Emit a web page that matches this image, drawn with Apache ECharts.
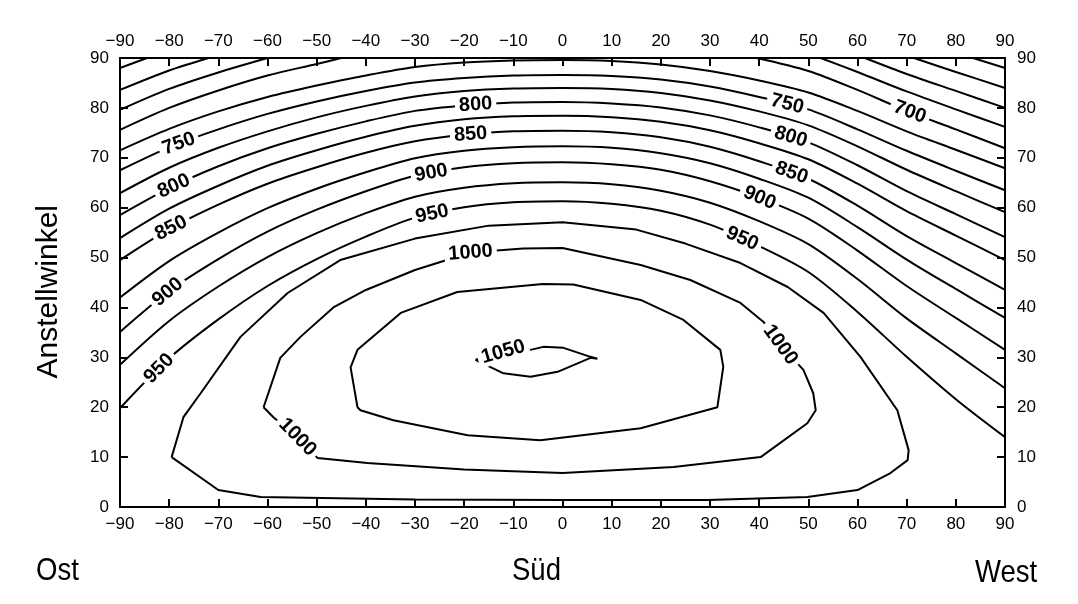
<!DOCTYPE html>
<html>
<head>
<meta charset="utf-8">
<script src="https://cdn.jsdelivr.net/npm/echarts@6/dist/echarts.min.js"></script>
<style>
html,body{margin:0;padding:0;background:#fff;}
#c{width:1078px;height:604px;}
</style>
</head>
<body>
<div id="c"></div>
<script>
// ---- axis ticks ----
const azimuthTicks = [-90,-80,-70,-60,-50,-40,-30,-20,-10,0,10,20,30,40,50,60,70,80,90];
const tiltTicks = [0,10,20,30,40,50,60,70,80,90];

// ---- contour lines: [azimuth (deg), tilt (deg)] ----
const c600R = [[83.5,90],[90,88]];
const c625L = [[-90,88],[-84.5,90]];
const c625R = [[71.5,90],[80,87.2],[90,84]];
const c650L = [[-90,83.6],[-80,87.5],[-72,90]];
const c650R = [[61.5,90],[70,86.8],[80,83.4],[90,80]];
const c675L = [[-90,79.6],[-80,83.8],[-70,87.1],[-60,90]];
const c675R = [[52.5,90],[60,87.2],[70,83.3],[80,79.7],[90,76.2]];
const c700L = [[-90,75.6],[-80,80.0],[-70,83.5],[-60,86.5],[-50,88.8],[-45,90]];
const c700R = [[39.5,90],[50,87.4],[60,83.6],[70,79.4],[80,75.7],[90,71.9]];
const c725 = [[-90,71.5],[-80,75.8],[-70,79.3],[-60,82.2],[-50,84.5],[-40,86.5],[-30,88.2],[-20,89.1],[-10,89.5],[0,89.6],[10,89.4],[20,88.7],[30,87.4],[40,85.5],[50,83.1],[60,79.4],[70,75.3],[80,71.6],[90,67.9]];
const c750 = [[-90,67.5],[-80,72.1],[-70,75.7],[-60,78.8],[-50,81.3],[-40,83.4],[-30,85.1],[-20,86.0],[-10,86.5],[0,86.6],[10,86.4],[20,85.7],[30,84.3],[40,82.2],[50,79.7],[60,75.7],[70,71.4],[80,67.4],[90,63.5]];
const c775 = [[-90,62.9],[-80,68.0],[-70,72.0],[-60,75.3],[-50,78.1],[-40,80.4],[-30,82.3],[-20,83.4],[-10,83.9],[0,84.0],[10,83.8],[20,83.0],[30,81.5],[40,79.3],[50,76.5],[60,72.3],[70,67.6],[80,63.3],[90,59.1]];
const c800 = [[-90,58.5],[-80,63.9],[-70,68.3],[-60,71.9],[-50,74.8],[-40,77.3],[-30,79.4],[-20,80.5],[-10,81.1],[0,81.2],[10,80.9],[20,80.1],[30,78.5],[40,76.1],[50,73.1],[60,68.5],[70,63.3],[80,58.7],[90,54.1]];
const c825 = [[-90,53.9],[-80,59.8],[-70,64.4],[-60,68.4],[-50,71.5],[-40,74.2],[-30,76.4],[-20,77.7],[-10,78.3],[0,78.4],[10,78.1],[20,77.2],[30,75.5],[40,72.9],[50,69.7],[60,64.8],[70,59.3],[80,54.4],[90,49.5]];
const c850 = [[-90,49.5],[-80,55.7],[-70,60.6],[-60,64.8],[-50,68.1],[-40,71.0],[-30,73.3],[-20,74.6],[-10,75.3],[0,75.4],[10,75.1],[20,74.1],[30,72.2],[40,69.3],[50,65.8],[60,60.4],[70,54.3],[80,48.9],[90,43.5]];
const c875 = [[-90,42.0],[-80,49.3],[-70,55.0],[-60,59.9],[-50,63.8],[-40,67.1],[-30,69.9],[-20,71.4],[-10,72.1],[0,72.3],[10,72.0],[20,70.9],[30,68.9],[40,65.8],[50,62.0],[60,56.1],[70,49.6],[80,43.7],[90,37.9]];
const c900 = [[-90,35.1],[-80,43.3],[-70,49.7],[-60,55.2],[-50,59.6],[-40,63.3],[-30,66.4],[-20,68.1],[-10,68.9],[0,69.1],[10,68.7],[20,67.6],[30,65.3],[40,62.0],[50,57.8],[60,51.4],[70,44.3],[80,37.9],[90,31.5]];
const c925 = [[-90,28.5],[-80,37.3],[-70,44.2],[-60,50.1],[-50,54.9],[-40,58.9],[-30,62.2],[-20,64.0],[-10,64.9],[0,65.1],[10,64.7],[20,63.4],[30,61.0],[40,57.3],[50,52.7],[60,45.7],[70,37.8],[80,30.8],[90,23.8]];
const c950 = [[-90,19.8],[-80,29.8],[-70,37.6],[-60,44.3],[-50,49.7],[-40,54.2],[-30,58.0],[-20,60.1],[-10,61.1],[0,61.3],[10,60.8],[20,59.4],[30,56.6],[40,52.3],[50,47.1],[60,39.1],[70,30.1],[80,21.6],[90,14.0]];
const c975 = [[-79.5,10.0],[-77.1,18.0],[-73.6,22.8],[-65.5,34.1],[-55.9,42.9],[-45.2,49.5],[-30,53.8],[-15,56.4],[0,57.1],[15,55.6],[25,52.8],[36.2,48.9],[45.8,44.1],[53.1,38.9],[60.6,30.1],[68.1,19.4],[70.4,11.4],[70.2,9.4],[66.7,6.8],[60.0,3.4],[49.8,2.0],[29.5,1.4],[0,1.4],[-30,1.5],[-61.4,2.0],[-70,3.4],[-79.5,10.0]];
const c1000 = [[-60.8,20.0],[-57.4,29.9],[-53.3,34.1],[-46.6,40.0],[-40,43.5],[-30,47.5],[-18.7,51.0],[-8,51.8],[0,51.9],[15.9,48.5],[26,45.5],[36.2,40.9],[40.9,37.1],[44.3,32.5],[49,27.5],[51,22.8],[51.5,19.4],[49.8,16.8],[40.3,10.0],[22.6,8.0],[0,6.8],[-20,7.5],[-39.7,8.8],[-49.8,9.8],[-53.9,14.0],[-58.8,18.0],[-60.8,20.0]];
const c1025 = [[-41.7,20.0],[-43.1,28.0],[-41.7,31.5],[-32.9,38.9],[-21.4,43.1],[-4,44.7],[2.2,44.6],[15.9,41.5],[24.6,37.5],[32.1,31.5],[32.7,28.1],[31.5,20.0],[15.9,15.8],[-4.5,13.4],[-19.3,14.4],[-34.4,17.4],[-41.1,19.4],[-41.7,20.0]];
const c1050 = [[-17.7,29.5],[-12,31.1],[-6.5,31.5],[-3.9,32.1],[0.2,31.9],[5.7,30.1],[7.1,29.7],[5.7,29.9],[-1,27.1],[-6.5,26.1],[-12,26.8],[-17.7,29.5]];

// level -> pieces
const contourPieces = {
  600:[c600R], 625:[c625L,c625R], 650:[c650L,c650R], 675:[c675L,c675R], 700:[c700L,c700R],
  725:[c725], 750:[c750], 775:[c775], 800:[c800], 825:[c825], 850:[c850], 875:[c875],
  900:[c900], 925:[c925], 950:[c950], 975:[c975], 1000:[c1000], 1025:[c1025], 1050:[c1050]
};
const closedLevels = [975,1000,1025,1050];

// ---- contour labels: [text, azimuth, tilt] (approximate anchor, snapped to line) ----
const contourLabels = [
  ['750',-78.3,73.5],['800',-79.3,64.9],['850',-79.7,56.1],['900',-80.3,43.1],['950',-81.8,27.5],
  ['800',-17.7,81.2],['850',-18.7,74.9],['900',-26.8,67.5],['950',-26.8,60.1],['1000',-18.7,51.1],
  ['700',70.8,79.6],['750',45.8,81.2],['800',46.4,74.1],['850',46.8,67.5],['900',39.9,61.5],['950',36.6,53.9],
  ['1000',44.3,32.5],['1000',-53.9,14.0],['1050',-12,30.9]
];

const FONT = "'Liberation Sans', Arial, sans-serif";
const fmtTick = v => String(v).replace('-', '\u2212');

const chart = echarts.init(document.getElementById('c'), null, {renderer:'canvas'});

const axisCommon = {
  type:'value',
  axisLine:{show:true, onZero:false, lineStyle:{color:'#000', width:2}},
  axisTick:{show:true, inside:true, length:8, lineStyle:{color:'#000', width:2}},
  splitLine:{show:false},
  axisLabel:{color:'#000', fontSize:17, fontFamily:FONT, formatter:fmtTick}
};

const series = [];
Object.keys(contourPieces).forEach(lv => {
  const closed = closedLevels.indexOf(+lv) >= 0;
  contourPieces[lv].forEach(piece => {
    series.push({
      type:'line', data:piece, showSymbol:false, symbol:'none',
      smooth: closed ? false : 0.3,
      lineStyle:{color:'#000', width:2}, silent:true, animation:false, z:2
    });
  });
});

const staticGraphics = [
  {id:'yname', type:'text', left:34, top:205, rotation:Math.PI/2, style:{text:'Anstellwinkel', font:"30px "+FONT, fill:'#000'}, z:10},
  {id:'ost', type:'text', x:36, y:555, scaleX:0.86, style:{text:'Ost', font:"32px "+FONT, fill:'#000'}},
  {id:'sued', type:'text', x:512, y:555, scaleX:0.86, style:{text:'Süd', font:"32px "+FONT, fill:'#000'}},
  {id:'west', type:'text', x:975, y:557, scaleX:0.86, style:{text:'West', font:"32px "+FONT, fill:'#000'}}
];

const option = {
  animation:false,
  backgroundColor:'#fff',
  grid:{left:120, right:73, top:58, bottom:97, show:false},
  xAxis:[
    Object.assign({}, axisCommon, {min:-90, max:90, interval:10, position:'bottom',
      axisLabel:Object.assign({}, axisCommon.axisLabel, {margin:9})}),
    Object.assign({}, axisCommon, {min:-90, max:90, interval:10, position:'top',
      axisLabel:Object.assign({}, axisCommon.axisLabel, {margin:8})})
  ],
  yAxis:[
    Object.assign({}, axisCommon, {min:0, max:90, interval:10, position:'left',
      axisLabel:Object.assign({}, axisCommon.axisLabel, {margin:11})}),
    Object.assign({}, axisCommon, {min:0, max:90, interval:10, position:'right',
      axisLabel:Object.assign({}, axisCommon.axisLabel, {margin:12})})
  ],
  graphic: staticGraphics,
  series: series
};
chart.setOption(option);

// snap labels onto their contour lines and align them with the line direction
const labelGraphics = contourLabels.map(([t, x, y], k) => {
  const p = chart.convertToPixel({gridIndex:0}, [x, y]);
  let best = null;
  contourPieces[t].forEach(piece => {
    const px = piece.map(pt => chart.convertToPixel({gridIndex:0}, pt));
    for (let i = 0; i < px.length - 1; i++) {
      const a = px[i], b = px[i+1];
      const dx = b[0]-a[0], dy = b[1]-a[1];
      const L2 = dx*dx + dy*dy || 1;
      let u = ((p[0]-a[0])*dx + (p[1]-a[1])*dy) / L2;
      u = Math.max(0, Math.min(1, u));
      const q = [a[0]+u*dx, a[1]+u*dy];
      const d = Math.hypot(q[0]-p[0], q[1]-p[1]);
      if (!best || d < best.d) best = {d, q, dx, dy};
    }
  });
  let ang = Math.atan2(-best.dy, best.dx);
  if (ang > Math.PI/2) ang -= Math.PI;
  if (ang < -Math.PI/2) ang += Math.PI;
  return {
    id:'lbl'+k, type:'text', x:best.q[0], y:best.q[1], rotation:ang, z:20, silent:true,
    style:{text:t, font:"bold 20px "+FONT, fill:'#000', align:'center', verticalAlign:'middle',
      backgroundColor:'#fff', padding:[0,4]}
  };
});
chart.setOption({graphic: staticGraphics.concat(labelGraphics)});
</script>
</body>
</html>
